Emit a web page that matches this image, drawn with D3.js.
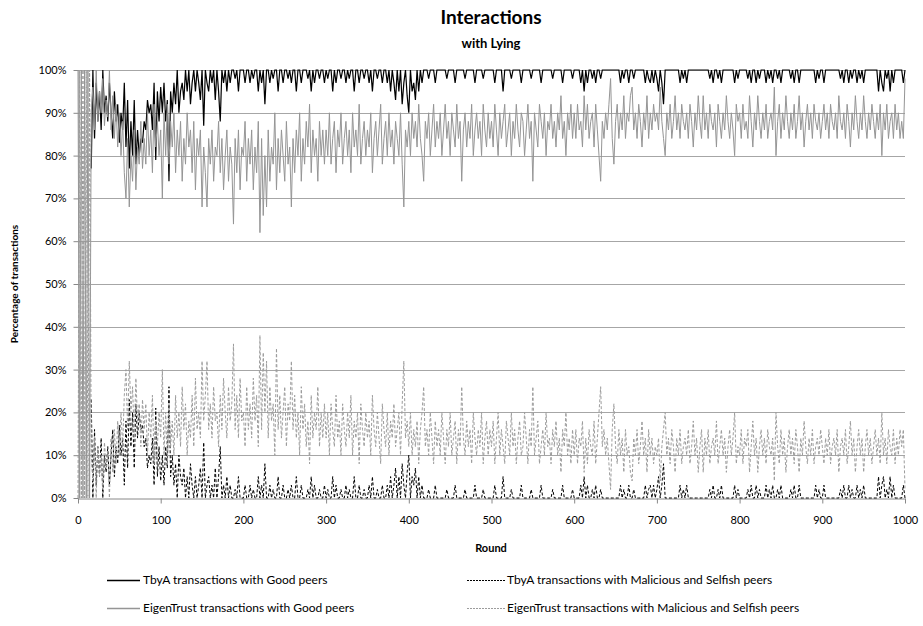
<!DOCTYPE html>
<html>
<head>
<meta charset="utf-8">
<script src="https://cdn.jsdelivr.net/npm/d3@7"></script>
<style>
  body { margin: 0; background: #fff; }
  text { font-family: Lato, "Open Sans", sans-serif; fill: #000; }
</style>
</head>
<body>
<script>
// one value every 2 rounds (percent)
var rounds = d3.range(0, 1001, 2);

var tbyaGood = [
  null,null,null,null,null,null,null,null,77,100,84,97,88,95,86,100,90,94,88,97,90,84,95,88,92,83,90,86,97,82,93,77,88,80,93,78,86,80,84,83,88,86,93,90,92,86,97,79,95,88,
  96,90,97,88,93,74,95,90,97,92,100,90,95,97,93,100,95,100,92,97,100,95,100,97,93,100,87,100,97,95,100,97,100,93,100,95,88,100,97,100,95,100,97,100,100,98,100,95,100,100,
  100,97,100,100,97,100,98,100,100,95,100,97,100,92,100,100,97,100,98,100,100,95,100,100,97,100,100,98,100,97,100,100,95,100,100,97,100,100,100,98,100,95,100,97,100,100,98,100,100,97,
  100,98,100,100,95,100,97,100,100,98,100,100,97,100,98,100,100,95,100,100,97,100,100,98,100,100,97,100,95,100,100,98,100,100,97,100,100,97,100,95,100,97,93,100,95,100,92,97,100,94,
  90,100,95,97,93,100,95,100,97,100,100,100,98,100,100,100,97,100,100,100,100,100,100,98,100,100,100,100,97,100,100,100,100,100,98,100,100,100,100,100,97,100,100,100,100,98,100,100,100,100,
  100,100,97,100,100,100,100,95,100,100,100,100,98,100,100,100,100,100,97,100,100,100,100,100,98,100,100,100,100,100,97,100,100,100,100,100,100,98,100,100,100,100,100,97,100,100,100,100,100,98,
  100,100,100,100,97,100,95,100,97,100,100,98,100,97,100,100,98,100,100,100,100,100,100,100,100,100,100,100,97,100,98,100,100,97,100,100,98,100,100,100,100,100,100,97,100,98,97,100,97,100,
  98,95,100,97,92,100,100,100,100,100,100,100,100,100,97,100,98,100,97,100,100,100,100,100,100,100,100,100,100,100,100,100,98,100,97,100,100,98,100,97,100,100,100,100,100,100,100,97,100,98,
  100,100,100,100,100,98,100,97,100,100,97,100,98,100,100,100,97,100,98,100,97,100,100,98,100,97,100,100,100,100,100,98,100,97,100,100,97,100,100,100,100,100,100,100,100,100,97,100,98,100,
  100,97,100,100,100,100,100,100,100,100,100,98,100,97,100,100,97,100,98,100,100,97,100,98,100,97,100,100,100,100,100,100,100,100,95,100,97,95,100,98,100,95,100,97,100,100,100,100,100,97,
  100
];

var tbyaMal = [
  null,null,null,null,null,null,null,null,23,0,16,3,12,5,14,0,10,6,12,3,10,16,5,12,8,17,10,14,3,18,7,23,12,20,7,22,14,20,16,17,12,14,7,10,8,14,3,21,5,12,
  4,10,3,12,7,26,5,10,3,8,0,10,5,3,7,0,5,0,8,3,0,5,0,3,7,0,13,0,3,5,0,3,0,7,0,5,12,0,3,0,5,0,3,0,0,2,0,5,0,0,
  0,3,0,0,3,0,2,0,0,5,0,3,0,8,0,0,3,0,2,0,0,5,0,0,3,0,0,2,0,3,0,0,5,0,0,3,0,0,0,2,0,5,0,3,0,0,2,0,0,3,
  0,2,0,0,5,0,3,0,0,2,0,0,3,0,2,0,0,5,0,0,3,0,0,2,0,0,3,0,5,0,0,2,0,0,3,0,0,3,0,5,0,3,7,0,5,0,8,3,0,6,
  10,0,5,3,7,0,5,0,3,0,0,0,2,0,0,0,3,0,0,0,0,0,0,2,0,0,0,0,3,0,0,0,0,0,2,0,0,0,0,0,3,0,0,0,0,2,0,0,0,0,
  0,0,3,0,0,0,0,5,0,0,0,0,2,0,0,0,0,0,3,0,0,0,0,0,2,0,0,0,0,0,3,0,0,0,0,0,0,2,0,0,0,0,0,3,0,0,0,0,0,2,
  0,0,0,0,3,0,5,0,3,0,0,2,0,3,0,0,2,0,0,0,0,0,0,0,0,0,0,0,3,0,2,0,0,3,0,0,2,0,0,0,0,0,0,3,0,2,3,0,3,0,
  2,5,0,3,8,0,0,0,0,0,0,0,0,0,3,0,2,0,3,0,0,0,0,0,0,0,0,0,0,0,0,0,2,0,3,0,0,2,0,3,0,0,0,0,0,0,0,3,0,2,
  0,0,0,0,0,2,0,3,0,0,3,0,2,0,0,0,3,0,2,0,3,0,0,2,0,3,0,0,0,0,0,2,0,3,0,0,3,0,0,0,0,0,0,0,0,0,3,0,2,0,
  0,3,0,0,0,0,0,0,0,0,0,2,0,3,0,0,3,0,2,0,0,3,0,2,0,3,0,0,0,0,0,0,0,0,5,0,3,5,0,2,0,5,0,3,0,0,0,0,0,3,
  0
];

var eigenGood = [
  100,0,100,0,100,0,100,0,90,96,86,100,88,95,90,98,87,93,89,100,86,94,84,92,82,90,80,88,76,70,84,68,80,74,86,72,82,78,88,77,84,78,90,80,86,76,92,82,88,80,
  86,70,90,80,92,78,88,82,90,76,86,80,88,74,84,78,90,82,86,76,88,72,84,80,86,68,82,76,68,84,78,86,74,82,80,88,76,84,72,80,86,74,82,78,64,84,76,86,72,82,
  80,88,74,84,78,86,72,82,76,88,62,84,66,80,68,86,74,82,78,90,72,84,76,86,80,74,88,78,82,68,84,76,86,80,90,74,84,78,88,82,92,76,86,80,84,74,88,80,86,78,
  86,80,90,78,84,88,76,86,82,90,78,84,88,80,86,76,90,82,86,80,92,78,84,88,80,86,82,90,76,84,88,80,86,92,78,84,88,80,90,82,86,78,88,84,80,90,78,68,86,82,
  88,80,90,84,88,82,92,84,80,74,88,84,90,80,86,92,82,88,84,90,80,86,92,84,88,80,90,86,82,92,84,88,74,86,90,82,88,84,92,80,86,90,84,88,80,92,86,82,90,84,
  88,82,92,86,80,90,84,88,92,82,86,90,80,88,84,92,86,82,90,88,80,86,92,84,88,74,90,86,82,92,88,84,90,80,88,86,92,84,88,82,90,86,94,84,88,80,90,86,92,84,
  90,84,92,86,88,82,94,86,92,84,88,90,82,92,86,80,74,88,84,90,86,92,98,84,78,88,92,84,90,86,94,84,90,88,94,96,86,90,84,92,88,82,90,86,94,84,90,86,92,88,
  90,86,96,88,84,80,90,86,92,84,88,94,86,90,84,92,88,86,90,84,92,88,82,90,86,94,88,84,94,86,90,84,92,88,86,90,82,92,88,84,90,86,94,88,84,90,86,80,92,88,
  90,84,92,86,88,84,94,88,82,90,86,94,88,84,90,86,92,84,88,90,86,96,80,88,92,84,90,86,94,88,84,90,86,92,84,88,94,86,90,82,88,92,86,90,84,92,88,86,90,84,
  88,92,86,90,84,92,88,86,90,84,94,88,86,90,84,92,88,82,90,86,94,88,84,90,86,94,88,84,90,86,92,88,84,90,86,92,80,90,86,92,84,88,90,84,92,86,90,84,88,84,
  98
];

var eigenMal = [
  0,100,0,100,0,100,0,100,10,4,14,0,12,5,10,2,13,7,11,0,14,6,16,8,18,10,20,12,24,30,16,32,20,26,14,28,18,22,12,23,16,22,10,20,14,24,8,18,12,20,
  14,30,10,20,8,22,12,18,10,24,14,20,12,26,16,22,10,18,14,24,12,28,16,20,14,32,18,24,32,16,22,14,26,18,20,12,24,16,28,20,14,26,18,22,36,16,24,14,28,18,
  20,12,26,16,22,14,28,18,24,12,38,16,34,20,32,14,26,18,22,10,35,16,24,14,20,26,12,22,18,32,16,24,14,20,10,26,16,22,12,18,8,24,14,20,16,26,12,20,14,22,
  14,20,10,22,16,12,24,14,18,10,22,16,12,20,14,24,10,18,14,20,8,22,16,12,20,14,18,10,24,16,12,20,14,8,22,16,12,20,10,18,14,22,12,16,20,10,22,32,14,18,
  12,20,10,16,12,18,8,16,20,26,12,16,10,20,14,8,18,12,16,10,20,14,8,16,12,20,10,14,18,8,16,12,26,14,10,18,12,16,8,20,14,10,16,12,20,8,14,18,10,16,
  12,18,8,14,20,10,16,12,8,18,14,10,20,12,16,8,14,18,10,12,20,14,8,16,12,26,10,14,18,8,12,16,10,20,12,14,8,16,12,18,10,14,6,16,12,20,10,14,8,16,
  10,16,8,14,12,18,6,14,8,16,12,10,18,8,14,20,26,12,16,10,14,8,2,16,22,12,8,16,10,14,6,16,10,12,6,4,14,10,16,8,12,18,10,14,6,16,10,14,8,12,
  10,14,4,12,16,20,10,14,8,16,12,6,14,10,16,8,12,14,10,16,8,12,18,10,14,6,12,16,6,14,10,16,8,12,14,10,18,8,12,16,10,14,6,12,16,10,14,20,8,12,
  10,16,8,14,12,16,6,12,18,10,14,6,12,16,10,14,8,16,12,10,14,4,20,12,8,16,10,14,6,12,16,10,14,8,16,12,6,14,10,18,12,8,14,10,16,8,12,14,10,16,
  12,8,14,10,16,8,12,14,10,16,6,12,14,10,16,8,12,18,10,14,6,12,16,10,14,6,12,16,10,14,8,12,16,10,14,8,20,10,14,8,16,12,10,16,8,14,10,16,12,16,
  2
];

var yTicks = [0,10,20,30,40,50,60,70,80,90,100];
var xTicks = [0,100,200,300,400,500,600,700,800,900,1000];

var series = [
  {name:'TbyA transactions with Good peers', values:tbyaGood, color:'#000', width:1.2, dash:null},
  {name:'TbyA transactions with Malicious and Selfish peers', values:tbyaMal, color:'#000', width:1, dash:'3,2'},
  {name:'EigenTrust transactions with Good peers', values:eigenGood, color:'#959595', width:1, dash:null},
  {name:'EigenTrust transactions with Malicious and Selfish peers', values:eigenMal, color:'#9c9c9c', width:1, dash:'3,2'}
];

var width = 923, height = 626;
var margin = {top:70, right:18, bottom:128, left:78};

var x = d3.scaleLinear().domain([0,1000]).range([margin.left, width - margin.right]);
var y = d3.scaleLinear().domain([0,100]).range([height - margin.bottom, margin.top]);

var svg = d3.select('body').append('svg')
    .attr('width', width)
    .attr('height', height);

// gridlines
svg.append('g')
   .selectAll('line')
   .data(yTicks.slice(1))
   .enter()
   .append('line')
   .attr('x1', x(0)).attr('x2', x(1000))
   .attr('y1', function(d){ return Math.round(y(d)) + 0.5; })
   .attr('y2', function(d){ return Math.round(y(d)) + 0.5; })
   .attr('stroke', '#a6a6a6')
   .attr('stroke-width', 1);

var yAxis = d3.axisLeft(y)
    .tickValues(yTicks)
    .tickFormat(function(d){ return d + '%'; })
    .tickSize(5).tickSizeOuter(0).tickPadding(7);

var xAxis = d3.axisBottom(x)
    .tickValues(xTicks)
    .tickFormat(d3.format('d'))
    .tickSize(5).tickSizeOuter(0).tickPadding(13);

var gy = svg.append('g')
   .attr('transform', 'translate(' + (margin.left + 0.5) + ',0)')
   .call(yAxis);
var gx = svg.append('g')
   .attr('transform', 'translate(0,' + (Math.round(y(0)) + 0.5) + ')')
   .call(xAxis);

[gy, gx].forEach(function(g){
  g.select('.domain').attr('stroke', '#888');
  g.selectAll('.tick line').attr('stroke', '#888');
  g.selectAll('.tick text').attr('font-size', '11px').attr('font-family', 'Lato, sans-serif').attr('fill', '#000');
});

// series
var line = d3.line()
    .defined(function(d){ return d != null; })
    .x(function(d, i){ return x(rounds[i]); })
    .y(function(d){ return y(d); });

svg.append('g')
   .selectAll('path')
   .data(series)
   .enter()
   .append('path')
   .attr('d', function(s){ return line(s.values); })
   .attr('fill', 'none')
   .attr('stroke', function(s){ return s.color; })
   .attr('stroke-width', function(s){ return s.width; })
   .attr('stroke-dasharray', function(s){ return s.dash; })
   .attr('stroke-linejoin', 'miter');

// titles
svg.append('text')
   .attr('x', 491).attr('y', 24)
   .attr('text-anchor', 'middle')
   .attr('font-size', '19px').attr('font-weight', 'bold')
   .text('Interactions');
svg.append('text')
   .attr('x', 491).attr('y', 48)
   .attr('text-anchor', 'middle')
   .attr('font-size', '13px').attr('font-weight', 'bold')
   .text('with Lying');
svg.append('text')
   .attr('x', 491).attr('y', 552)
   .attr('text-anchor', 'middle')
   .attr('font-size', '11px').attr('font-weight', 'bold')
   .text('Round');
svg.append('text')
   .attr('transform', 'translate(14,284) rotate(-90)')
   .attr('dy', '0.35em')
   .attr('text-anchor', 'middle')
   .attr('font-size', '10px').attr('font-weight', 'bold')
   .text('Percentage of transactions');

// legend
var legendPos = [[107,580],[467,580],[107,608],[467,608]];
var legend = svg.append('g')
   .selectAll('g')
   .data(series)
   .enter()
   .append('g')
   .attr('transform', function(d, i){ return 'translate(' + legendPos[i][0] + ',' + legendPos[i][1] + ')'; });

legend.append('line')
   .attr('x1', 0).attr('x2', function(d, i){ return i % 2 ? 38 : 33; })
   .attr('y1', 0.5).attr('y2', 0.5)
   .attr('stroke', function(s){ return s.color; })
   .attr('stroke-width', function(s){ return s.dash ? 1 : 1.5; })
   .attr('stroke-dasharray', function(s){ return s.dash ? '2,1' : null; });

legend.append('text')
   .attr('x', function(d, i){ return i % 2 ? 40 : 36; })
   .attr('y', 0)
   .attr('dy', '0.35em')
   .attr('font-size', '12px')
   .text(function(s){ return s.name; });
</script>
</body>
</html>
